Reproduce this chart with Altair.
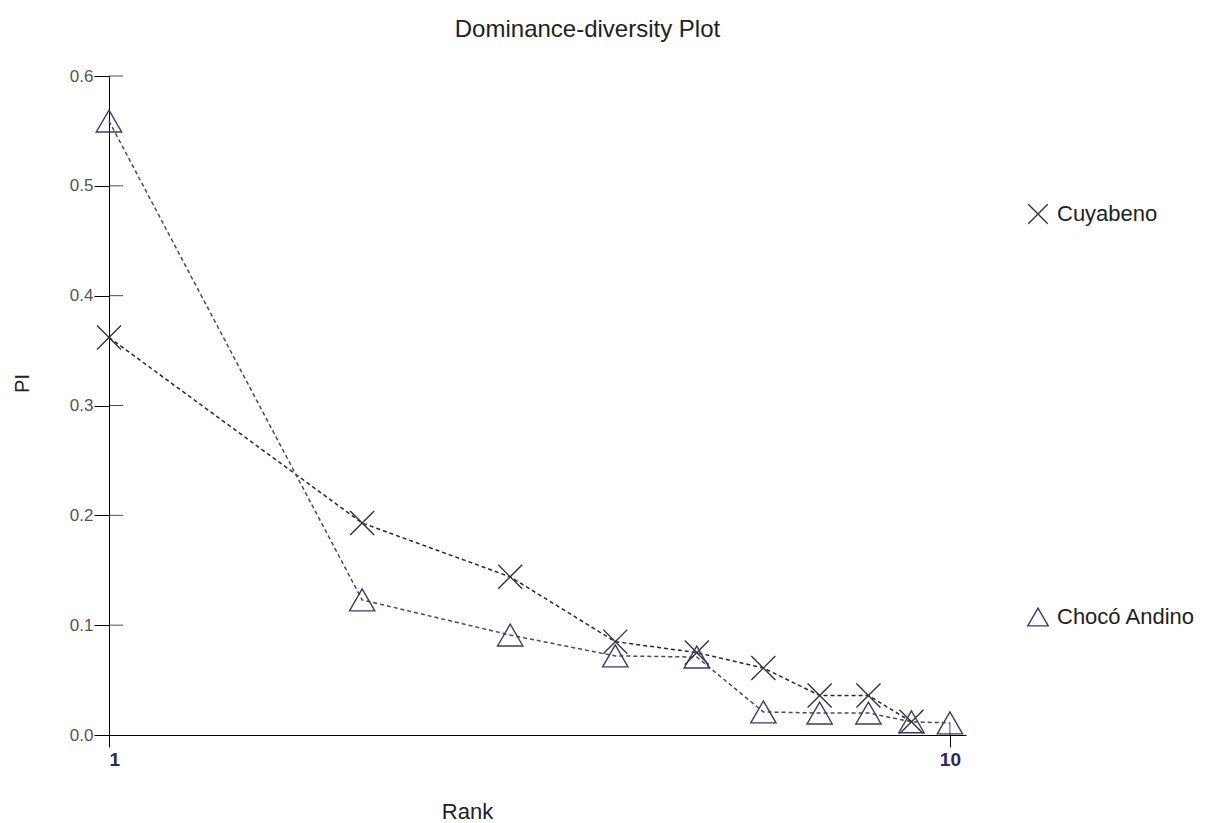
import altair as alt
import pandas as pd

# ---- data ----
ranks = [1, 2, 3, 4, 5, 6, 7, 8, 9, 10]
cuyabeno_pi = [0.362, 0.193, 0.144, 0.085, 0.075, 0.061, 0.036, 0.036, 0.012]
choco_pi = [0.559, 0.123, 0.091, 0.072, 0.071, 0.021, 0.020, 0.020, 0.012, 0.011]
series_names = ["Cuyabeno", "Chocó Andino"]
pi_ticks = [0.1, 0.2, 0.3, 0.4, 0.5, 0.6]
rank_ticks = [1, 10]

rows = []
for r, v in zip(ranks, cuyabeno_pi):
    rows.append({"Rank": r, "PI": v, "series": series_names[0]})
for r, v in zip(ranks, choco_pi):
    rows.append({"Rank": r, "PI": v, "series": series_names[1]})
df = pd.DataFrame(rows)

W, H = 857, 659
FONT = "Liberation Sans"
colors = ["#333333", "#3b3b6e"]
line_colors = ["#2a2a2a", "#4a4a5a"]
x_path = "M-0.95,-0.95L0.95,0.95M-0.95,0.95L0.95,-0.95"

xscale = alt.Scale(type="log", domain=[1, 10.45])
yscale = alt.Scale(domain=[0, 0.6])

x_enc = alt.X("Rank:Q", scale=xscale,
              axis=alt.Axis(values=rank_ticks, format="d", title="Rank", grid=False,
                            domainColor="#000", tickColor="#000", tickSize=12,
                            labelColor="#2a2a60", labelFontSize=19, labelFontWeight="bold",
                            labelPadding=3, titleFontSize=22, titleFontWeight="normal",
                            titleColor="#222", titleX=358, titleY=76,
                            titleBaseline="middle", labelFont=FONT, titleFont=FONT))
y_enc = alt.Y("PI:Q", scale=yscale,
              axis=alt.Axis(values=[0.0] + pi_ticks, format=".1f", title="PI", grid=False,
                            domainColor="#000", tickColor="#000", tickSize=15,
                            labelColor="#555", labelFontSize=17, labelPadding=1,
                            titleFontSize=20, titleFontWeight="normal", titleColor="#222",
                            titleX=-87, titleY=307, titleBaseline="middle",
                            labelFont=FONT, titleFont=FONT))

legend = alt.Legend(title=None, orient="none", legendX=918, legendY=127, padding=0,
                    rowPadding=378, labelFontSize=22, labelColor="#222", labelFont=FONT,
                    symbolSize=420, symbolStrokeWidth=1.4, labelOffset=8,
                    symbolFillColor="transparent")

line_layers = []
for name, lc in zip(series_names, line_colors):
    line_layers.append(
        alt.Chart(df).transform_filter(alt.datum.series == name)
        .mark_line(strokeDash=[4, 3], strokeWidth=1.5, color=lc)
        .encode(x=x_enc, y=y_enc)
    )

points = alt.Chart(df).mark_point(filled=False, strokeWidth=1.4, opacity=1, size=640).encode(
    x=x_enc, y=y_enc,
    shape=alt.Shape("series:N", scale=alt.Scale(domain=series_names, range=[x_path, "triangle-up"]),
                    legend=legend),
    color=alt.Color("series:N", scale=alt.Scale(domain=series_names, range=colors), legend=legend),
)

ytick_df = pd.DataFrame({"PI": pi_ticks})
inner_yticks = alt.Chart(ytick_df).mark_tick(orient="horizontal", size=14, thickness=1, color="#000").encode(
    y=alt.Y("PI:Q", scale=yscale), x=alt.value(7)
)
xtick_df = pd.DataFrame({"Rank": [10]})
inner_xticks = alt.Chart(xtick_df).mark_tick(orient="vertical", size=12, thickness=1, color="#000").encode(
    x=alt.X("Rank:Q", scale=xscale), y=alt.value(H - 6)
)

chart = alt.layer(*line_layers, points, inner_yticks, inner_xticks).properties(
    width=W, height=H,
    title=alt.TitleParams("Dominance-diversity Plot", fontSize=24, fontWeight="normal",
                          color="#222", font=FONT, offset=25, dx=50, anchor="middle"),
    autosize=alt.AutoSizeParams(type="none"),
    padding={"left": 101, "top": 68, "right": 248, "bottom": 88},
).configure_view(stroke=None)

chart.save("out.html", embed_options={"renderer": "svg", "actions": False})
